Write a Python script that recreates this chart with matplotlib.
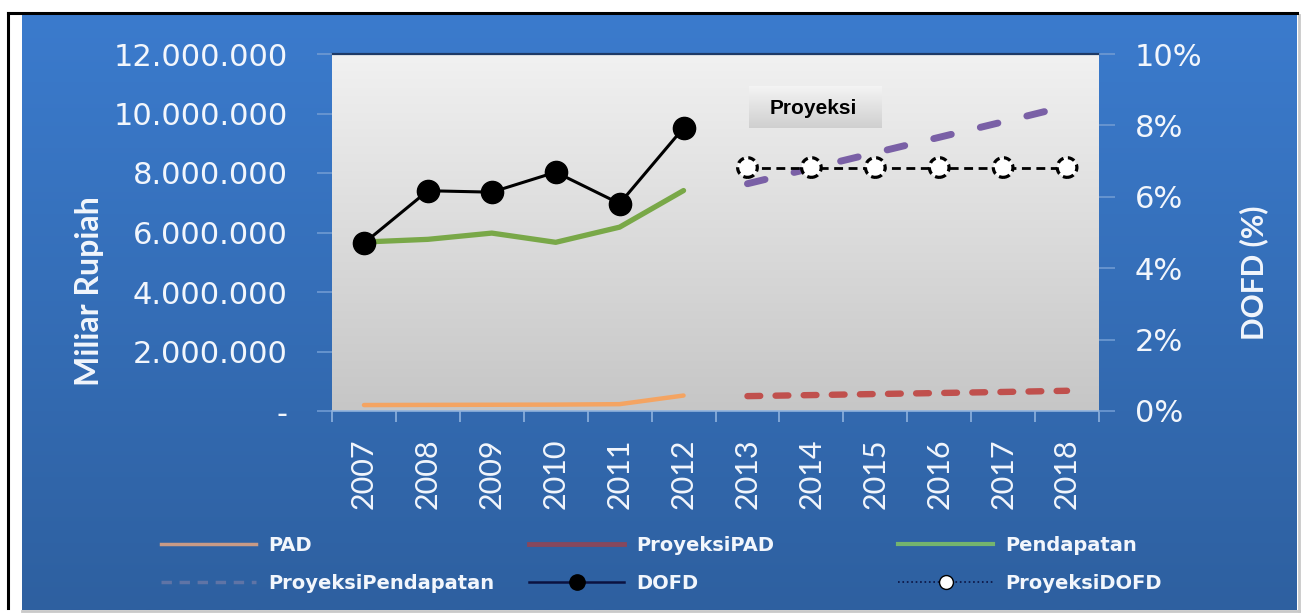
import numpy as np
import matplotlib
matplotlib.use("Agg")
import matplotlib.pyplot as plt
from matplotlib.lines import Line2D
from matplotlib.colors import LinearSegmentedColormap
from matplotlib.ticker import FuncFormatter, MultipleLocator, FixedLocator

# ---------------- data ----------------
years_hist = [2007, 2008, 2009, 2010, 2011, 2012]
years_proj = [2013, 2014, 2015, 2016, 2017, 2018]
year_labels = [str(y) for y in years_hist + years_proj]

pad = [200000, 205000, 210000, 215000, 230000, 520000]
proyeksi_pad = [500000, 535000, 570000, 605000, 640000, 680000]
pendapatan = [5680000, 5770000, 5980000, 5670000, 6180000, 7410000]
proyeksi_pendapatan = [7640000, 8160000, 8680000, 9200000, 9720000, 10250000]
dofd = [4.7, 6.17, 6.13, 6.69, 5.81, 7.93]          # percent
proyeksi_dofd = [6.82, 6.82, 6.82, 6.82, 6.82, 6.82]  # percent

legend_labels = ["PAD", "ProyeksiPAD", "Pendapatan",
                 "ProyeksiPendapatan", "DOFD", "ProyeksiDOFD"]

# ---------------- figure ----------------
W, H = 1301, 616
fig = plt.figure(figsize=(W / 100, H / 100), dpi=100)
fig.patch.set_facecolor("white")

FONT = "Lato"
TICKFONT = "DejaVu Sans"
WHITE = "#f2f6fc"

# background (pixel coordinates)
bg = fig.add_axes([0, 0, 1, 1], zorder=-10)
bg.set_xlim(0, W)
bg.set_ylim(H, 0)
bg.axis("off")
grad = np.linspace(0, 1, 256).reshape(-1, 1)
blue_cmap = LinearSegmentedColormap.from_list("b", ["#3b7bcd", "#2e60a0"])
bg.imshow(grad, cmap=blue_cmap, extent=(22, 1297, 610, 15), aspect="auto", zorder=1)
bg.plot([8, 8], [13, 608], color="black", lw=2.2, zorder=3)
bg.plot([8, 1297], [13, 13], color="black", lw=2.2, zorder=3)
bg.plot([22, 1299], [611, 611], color="#c9c9c9", lw=2, zorder=0)
bg.plot([1298.5, 1298.5], [15, 611], color="#c9c9c9", lw=2, zorder=0)

# plot-area gradient
px_l, px_r, px_t, px_b = 332, 1099, 54, 411
gray_cmap = LinearSegmentedColormap.from_list("g", ["#f1f1f1", "#c6c6c6"])
bg.imshow(grad, cmap=gray_cmap, extent=(px_l, px_r, px_b, px_t), aspect="auto", zorder=2)
bg.plot([px_l, px_r], [px_t, px_t], color="#1e3a66", lw=1.6, zorder=3)

# "Proyeksi" box
box_grad = LinearSegmentedColormap.from_list("bx", ["#f4f4f4", "#cfcfcf"])
bg.imshow(grad, cmap=box_grad, extent=(749, 882, 128, 86), aspect="auto", zorder=4)
bg.text(813, 108, "Proyeksi", ha="center", va="center", fontsize=15,
        fontweight="bold", family="Liberation Sans", color="black", zorder=5)

# main axes
ax = fig.add_axes([px_l / W, 1 - px_b / H, (px_r - px_l) / W, (px_b - px_t) / H])
ax.patch.set_alpha(0)
ax2 = ax.twinx()
ax2.patch.set_alpha(0)

# series
ax.plot(years_hist, pad, color="#f4a462", lw=3.2, solid_capstyle="round", zorder=3)
ax.plot(years_proj, proyeksi_pad, color="#c0504d", lw=4.6, dash_capstyle="round",
        dashes=(2.0, 2.4), zorder=3)
ax.plot(years_hist, pendapatan, color="#79a848", lw=3.8, solid_capstyle="round", zorder=3)
ax.plot(years_proj, proyeksi_pendapatan, color="#7a60a6", lw=5.0, dash_capstyle="round",
        dashes=(2.6, 4.3), zorder=3)
ax2.plot(years_hist, dofd, color="black", lw=2.2, marker="o", markersize=16,
         markerfacecolor="black", markeredgecolor="black", zorder=4)
ax2.plot(years_proj, proyeksi_dofd, color="black", lw=2.0, dashes=(3.2, 2.0), zorder=4)
ax2.scatter(years_proj, proyeksi_dofd, s=200, facecolors="white", edgecolors="black",
            linewidths=2.3, linestyles=(0, (2.2, 1.4)), zorder=5)

# axes limits / ticks
ax.set_xlim(2006.5, 2018.5)
ax.set_ylim(0, 12000000)
ax2.set_ylim(0, 10)

all_years = years_hist + years_proj
ax.xaxis.set_major_locator(FixedLocator(all_years))
ax.set_xticklabels(year_labels)
ax.xaxis.set_minor_locator(FixedLocator([y + 0.5 for y in [2006] + all_years]))
ax.tick_params(axis="x", which="major", length=0, pad=20, labelrotation=90,
               labelsize=22, labelcolor=WHITE)
ax.tick_params(axis="x", which="minor", length=8, width=1.2, color="#8fb2de", direction="out")
for lbl in ax.get_xticklabels():
    lbl.set_family(FONT)
    lbl.set_va("top")

ax.yaxis.set_major_locator(MultipleLocator(2000000))
ax.yaxis.set_major_formatter(FuncFormatter(
    lambda v, p: "-" if v == 0 else f"{int(v):,}".replace(",", ".")))
ax.tick_params(axis="y", length=11, width=1.2, color="#6f9ad2", pad=21,
               labelsize=22, labelcolor=WHITE)
for lbl in ax.get_yticklabels():
    lbl.set_family(TICKFONT)

ax2.yaxis.set_major_locator(MultipleLocator(2))
ax2.yaxis.set_major_formatter(FuncFormatter(lambda v, p: f"{int(round(v))}%"))
ax2.tick_params(axis="y", length=11.5, width=1.2, color="#6f9ad2", pad=14.4,
                labelsize=22, labelcolor=WHITE)
for lbl in ax2.get_yticklabels():
    lbl.set_family(TICKFONT)

for a in (ax, ax2):
    for s in a.spines.values():
        s.set_visible(False)
ax.spines["bottom"].set_visible(True)
ax.spines["bottom"].set_color("#8fb2de")
ax.spines["bottom"].set_linewidth(1.2)

# axis titles
fig.text(89 / W, 1 - 291 / H, "Miliar Rupiah", rotation=90, ha="center", va="center",
         fontsize=23, fontweight="bold", family=FONT, color=WHITE)
fig.text(1254 / W, 1 - 273 / H, "DOFD (%)", rotation=90, ha="center", va="center",
         fontsize=21.5, fontweight="bold", family=FONT, color=WHITE)

# legend (three columns, two rows each)
h_pad = Line2D([], [], color="#c89a86", lw=2.5)
h_ppad = Line2D([], [], color="#86485e", lw=3.5)
h_pend = Line2D([], [], color="#74b46e", lw=3)
h_ppend = Line2D([], [], color="#5f74a6", lw=2.5, dashes=(3, 2.2))
h_dofd = Line2D([], [], color="#0b1240", lw=1.8, marker="o", markersize=11,
                markerfacecolor="black", markeredgecolor="black")
h_pdofd = Line2D([], [], color="#0b1240", lw=1.2, ls=":", marker="o", markersize=10,
                 markerfacecolor="white", markeredgecolor="black")

cols = [([h_pad, h_ppend], [legend_labels[0], legend_labels[3]], 161),
        ([h_ppad, h_dofd], [legend_labels[1], legend_labels[4]], 529),
        ([h_pend, h_pdofd], [legend_labels[2], legend_labels[5]], 898)]
for handles, labels, x0 in cols:
    leg = fig.legend(handles, labels, loc="upper left",
                     bbox_to_anchor=(x0 / W, 1 - 536 / H), frameon=False,
                     borderpad=0, borderaxespad=0, handlelength=4.9,
                     handletextpad=0.6, labelspacing=0.98,
                     prop={"family": TICKFONT, "weight": "bold", "size": 14})
    for t in leg.get_texts():
        t.set_color(WHITE)

fig.savefig("out.png", dpi=100)
